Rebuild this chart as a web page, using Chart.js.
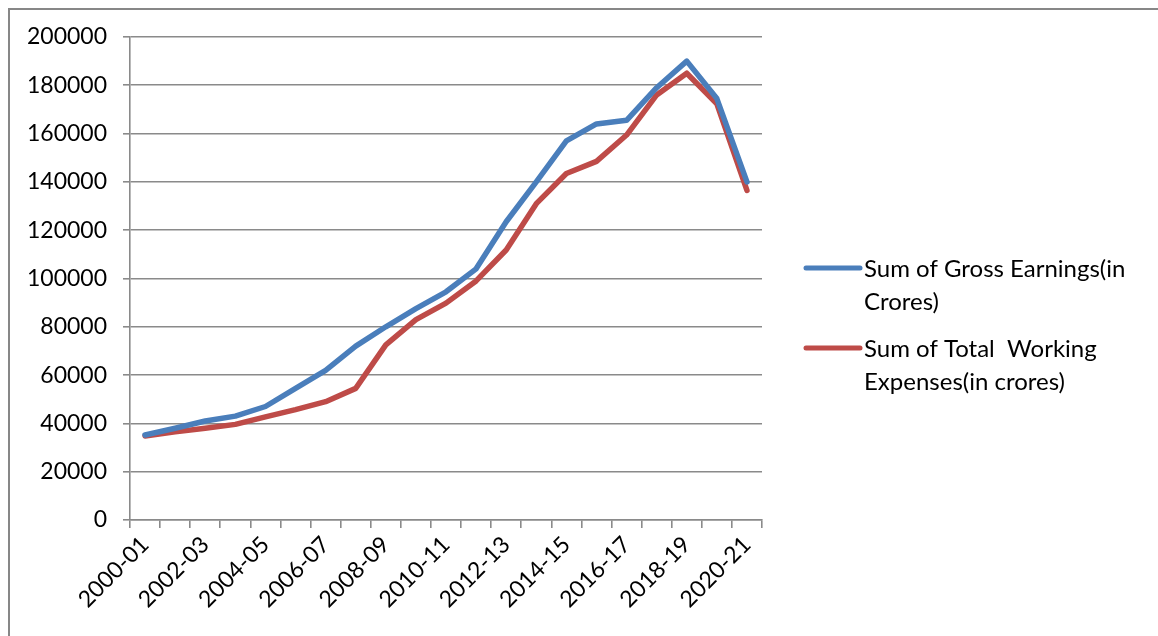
<!DOCTYPE html>
<html>
<head>
<meta charset="utf-8">
<title>Gross Earnings vs Total Working Expenses</title>
<script src="https://cdn.jsdelivr.net/npm/chart.js@4.4.1/dist/chart.umd.min.js"></script>
<style>
  html, body { margin: 0; padding: 0; background: #ffffff; }
  #wrap { position: relative; width: 1158px; height: 636px; }
</style>
</head>
<body>
<div id="wrap"><canvas id="chart" width="1158" height="636"></canvas></div>
<script>
// Financial years
const years = [
  '2000-01', '2001-02', '2002-03', '2003-04', '2004-05', '2005-06', '2006-07',
  '2007-08', '2008-09', '2009-10', '2010-11', '2011-12', '2012-13', '2013-14',
  '2014-15', '2015-16', '2016-17', '2017-18', '2018-19', '2019-20', '2020-21'
];

// Sum of Gross Earnings (in crores)
const grossEarnings = [
  35200, 38000, 41000, 43000, 47000, 54500, 62000,
  72000, 80000, 87500, 94500, 104000, 123500, 140000,
  157000, 164000, 165500, 179000, 190000, 174500, 140000
];

// Sum of Total Working Expenses (in crores)
const workingExpenses = [
  34800, 36500, 38000, 39600, 42700, 45700, 49000,
  54500, 72500, 83000, 89800, 99000, 111800, 131000,
  143500, 148500, 159400, 176000, 185000, 172300, 136500
];

// Legend entries, each split over two lines
const legendLines = [
  ['Sum of Gross Earnings(in', 'Crores)'],
  ['Sum of Total  Working', 'Expenses(in crores)']
];

// Y axis range
const yMin = 0, yMax = 200000, yStep = 20000;

const FONT = "Lato, 'Open Sans', sans-serif";
const GRID = '#8a8a8a';
const BLUE = '#4a7ebb';
const RED = '#be4b48';

// Frame lines along the top and left edges of the chart box
const framePlugin = {
  id: 'frame',
  beforeDraw(chart) {
    const ctx = chart.ctx;
    ctx.save();
    ctx.strokeStyle = '#878787';
    ctx.lineWidth = 2;
    ctx.beginPath();
    ctx.moveTo(9, chart.height);
    ctx.lineTo(9, 9);
    ctx.lineTo(chart.width, 9);
    ctx.stroke();
    ctx.restore();
  }
};

// Legend on the right with wrapped, two-line entries
const sideLegend = {
  id: 'sideLegend',
  afterDraw(chart) {
    const ctx = chart.ctx;
    const area = chart.chartArea;
    const x0 = area.right + 44;
    const sample = 54;
    const lineGap = 33;
    const blockGap = 80;
    const firstY = 268;
    ctx.save();
    ctx.font = '24px ' + FONT;
    ctx.textBaseline = 'middle';
    ctx.textAlign = 'left';
    chart.data.datasets.forEach((ds, i) => {
      const y = firstY + i * blockGap;
      ctx.strokeStyle = ds.borderColor;
      ctx.lineWidth = 5;
      ctx.lineCap = 'round';
      ctx.beginPath();
      ctx.moveTo(x0, y);
      ctx.lineTo(x0 + sample, y);
      ctx.stroke();
      ctx.fillStyle = '#000000';
      legendLines[i].forEach((t, k) => {
        ctx.fillText(t, x0 + sample + 4, y + 1 + k * lineGap);
      });
    });
    ctx.restore();
  }
};

new Chart(document.getElementById('chart'), {
  type: 'line',
  data: {
    labels: years,
    datasets: [
      {
        label: legendLines[0].join(' '),
        data: grossEarnings,
        borderColor: BLUE,
        backgroundColor: BLUE,
        borderWidth: 5.5,
        borderCapStyle: 'round',
        borderJoinStyle: 'round',
        pointRadius: 0,
        tension: 0,
        fill: false
      },
      {
        label: legendLines[1].join(' '),
        data: workingExpenses,
        borderColor: RED,
        backgroundColor: RED,
        borderWidth: 5.5,
        borderCapStyle: 'round',
        borderJoinStyle: 'round',
        pointRadius: 0,
        tension: 0,
        fill: false
      }
    ]
  },
  options: {
    responsive: false,
    animation: false,
    devicePixelRatio: 1,
    layout: { padding: { left: 0, right: 396, top: 37, bottom: 0 } },
    plugins: {
      legend: { display: false },
      tooltip: { enabled: false }
    },
    scales: {
      x: {
        type: 'category',
        offset: true,
        grid: {
          offset: true,
          drawOnChartArea: false,
          drawTicks: true,
          tickLength: 8,
          color: GRID,
          lineWidth: 1.6
        },
        border: { display: true, color: GRID, width: 1.6 },
        ticks: {
          autoSkip: false,
          maxRotation: 45,
          minRotation: 45,
          padding: 3,
          color: '#000000',
          font: { family: FONT, size: 23 },
          callback: function (value, index) {
            return index % 2 === 0 ? this.getLabelForValue(value) : '';
          }
        },
        afterFit(scale) { scale.height = 116; }
      },
      y: {
        min: yMin,
        max: yMax,
        grid: {
          drawTicks: true,
          tickLength: 7,
          color: GRID,
          lineWidth: 1.6
        },
        border: { display: true, color: GRID, width: 1.6 },
        ticks: {
          stepSize: yStep,
          padding: 16,
          color: '#000000',
          font: { family: FONT, size: 23 },
          callback: (v) => String(v)
        },
        afterFit(scale) { scale.width = 130; }
      }
    }
  },
  plugins: [framePlugin, sideLegend]
});
</script>
</body>
</html>
